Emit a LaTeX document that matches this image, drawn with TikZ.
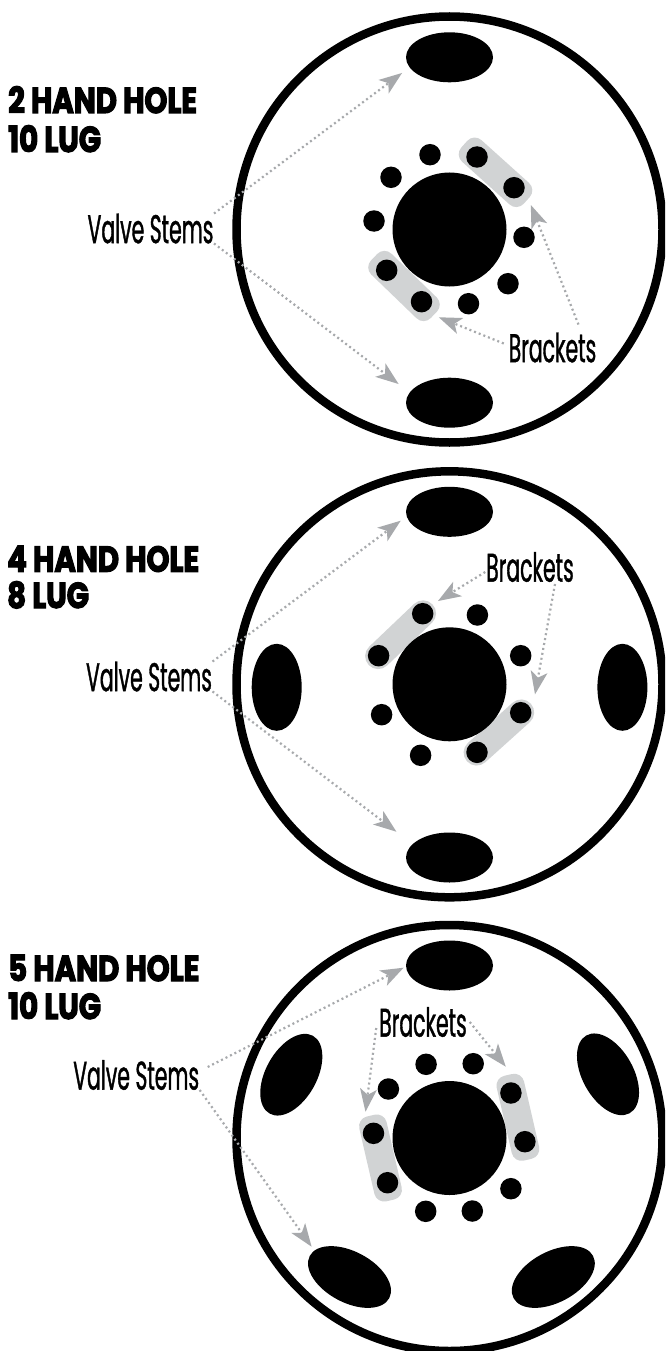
\documentclass[tikz,border=0pt]{standalone}
\usepackage{fontspec}
\usetikzlibrary{arrows.meta,calc,shapes.geometric}
\newfontfamily\headfont[FakeStretch=0.81,FakeBold=3.2]{Poppins Bold}
\newfontfamily\labfont[FakeStretch=0.51,FakeBold=0.9]{Poppins}
\definecolor{brk}{HTML}{D1D3D4}
\definecolor{arrowc}{HTML}{A7A9AC}
\tikzset{
  ring/.style={circle,draw=black,line width=8.5pt,fill=white,minimum size=426pt,inner sep=0pt,outer sep=0pt},
  hub/.style={circle,fill=black,minimum size=114pt,inner sep=0pt,outer sep=0pt},
  lug/.style={circle,fill=black,minimum size=21.5pt,inner sep=0pt,outer sep=0pt},
  hole/.style={ellipse,fill=black,minimum width=87pt,minimum height=50pt,inner sep=0pt,outer sep=0pt},
  bracketbar/.style={rectangle,fill=brk,rounded corners=#1,inner sep=0pt,outer sep=0pt},
  head/.style={anchor=base west,inner sep=0pt,font=\headfont\fontsize{36}{36}\selectfont},
  lab/.style={inner sep=0pt,outer sep=0pt,font=\labfont\fontsize{40}{40}\selectfont},
  valvelab/.style={lab,minimum width=127pt,minimum height=27pt},
  bracketlab/.style={lab,minimum width=83pt,minimum height=25pt},
  pointer/.style={draw=arrowc,line width=2.2pt,dash pattern=on 2pt off 3pt,
    -{Stealth[length=23pt,width=17pt,inset=6pt,fill=arrowc,line width=0pt]}}
}
\begin{document}
\begin{tikzpicture}[x=1pt,y=-1pt]
\useasboundingbox (0,0) rectangle (665,1351);
\clip (0,0) rectangle (665,1351);

% ---------- wheel 1
\node[ring] (r1) at (449.5,229.5) {};
\node[hole] (h1a) at (449.5,57.3) {};
\node[hole] (h1b) at (449.5,402.7) {};
\node[bracketbar=10pt,minimum width=84pt,minimum height=29pt,rotate=-42] (b1a) at (495.5,172.3) {};
\node[bracketbar=10pt,minimum width=83pt,minimum height=29pt,rotate=-44] (b1b) at (404,286) {};
\node[hub] (c1) at (449.5,229.5) {};
\node[lug] (l1a) at (477,157) {};
\node[lug] (l1b) at (514,187.7) {};
\node[lug] (l1c) at (524,237.3) {};
\node[lug] (l1d) at (508,283.7) {};
\node[lug] (l1e) at (468.5,303.7) {};
\node[lug] (l1f) at (421.5,301.7) {};
\node[lug] (l1g) at (386.7,270.3) {};
\node[lug] (l1h) at (374,221) {};
\node[lug] (l1i) at (391,177.3) {};
\node[lug] (l1j) at (430,154.7) {};
\node[head] (t1a) at (8,113) {2 HAND HOLE};
\node[head] (t1b) at (8,152) {10 LUG};
\node[valvelab] (v1) at (150.5,228.5) {Valve Stems};
\node[bracketlab] (k1) at (552.5,347.5) {Brackets};
\coordinate (p1a) at (402,73);
\coordinate (p1b) at (398.6,384);
\coordinate (p1c) at (530.8,205);
\coordinate (p1d) at (438.8,317.3);
\draw[pointer] (v1.north east) -- (p1a);
\draw[pointer] (v1.south east) -- (p1b);
\draw[pointer] ($(k1.north)+(26,-8)$) -- (p1c);
\draw[pointer] ($(k1.west)+(-5,-4)$) -- (p1d);

% ---------- wheel 2
\node[ring] (r2) at (449.5,684.3) {};
\node[hole] (h2a) at (449.5,511.8) {};
\node[hole] (h2b) at (449.5,857.5) {};
\node[hole,rotate=90] (h2c) at (276.7,687.3) {};
\node[hole,rotate=90] (h2d) at (622.4,687.3) {};
\node[bracketbar=13pt,minimum width=88pt,minimum height=26pt,rotate=43.6] (b2a) at (400.6,634.7) {};
\node[bracketbar=13pt,minimum width=86pt,minimum height=26pt,rotate=42] (b2b) at (498.9,732.5) {};
\node[hub] (c2) at (449.5,684.3) {};
\node[lug] (l2a) at (422.7,613.7) {};
\node[lug] (l2b) at (477.4,615) {};
\node[lug] (l2c) at (520.7,655.7) {};
\node[lug] (l2d) at (520.7,712.7) {};
\node[lug] (l2e) at (477,752.3) {};
\node[lug] (l2f) at (420.6,755.3) {};
\node[lug] (l2g) at (381.6,714.7) {};
\node[lug] (l2h) at (378.6,655.7) {};
\node[head] (t2a) at (7,571.7) {4 HAND HOLE};
\node[head] (t2b) at (7,608) {8 LUG};
\node[valvelab] (v2) at (149,676.5) {Valve Stems};
\node[bracketlab] (k2) at (530,567) {Brackets};
\coordinate (p2a) at (400.7,520.7);
\coordinate (p2b) at (396.4,831.7);
\coordinate (p2c) at (438,601);
\coordinate (p2d) at (535,694.3);
\draw[pointer] (v2.north east) -- (p2a);
\draw[pointer] (v2.south east) -- (p2b);
\draw[pointer] ($(k2.west)+(-1,5)$) -- (p2c);
\draw[pointer] ($(k2.south)+(25,2)$) -- (p2d);

% ---------- wheel 3
\node[ring] (r3) at (449.5,1138) {};
\node[hole] (h3a) at (449.5,965.5) {};
\node[hole,rotate=61,minimum width=89pt,minimum height=51pt] (h3b) at (291.3,1074.7) {};
\node[hole,rotate=119,minimum width=89pt,minimum height=51pt] (h3c) at (608,1074.3) {};
\node[hole,rotate=-28,minimum width=90pt,minimum height=51pt] (h3d) at (349.5,1277) {};
\node[hole,rotate=28,minimum width=90pt,minimum height=51pt] (h3e) at (553.3,1277) {};
\node[bracketbar=10pt,minimum width=87pt,minimum height=28pt,rotate=-77] (b3a) at (517.9,1117.3) {};
\node[bracketbar=10pt,minimum width=87pt,minimum height=28pt,rotate=-77] (b3b) at (380.5,1158) {};
\node[hub] (c3) at (449.5,1138) {};
\node[lug] (l3a) at (426.1,1064.3) {};
\node[lug] (l3b) at (473.2,1063.7) {};
\node[lug] (l3c) at (388.4,1089) {};
\node[lug] (l3d) at (510.9,1093) {};
\node[lug] (l3e) at (373.5,1133.3) {};
\node[lug] (l3f) at (524.9,1141.7) {};
\node[lug] (l3g) at (387.5,1182.7) {};
\node[lug] (l3h) at (510.9,1188.7) {};
\node[lug] (l3i) at (425.7,1211.3) {};
\node[lug] (l3j) at (472.3,1211) {};
\node[head] (t3a) at (8,981) {5 HAND HOLE};
\node[head] (t3b) at (8,1019) {10 LUG};
\node[valvelab] (v3) at (136.2,1075) {Valve Stems};
\node[bracketlab] (k3) at (423,1022) {Brackets};
\coordinate (p3a) at (403.6,967.7);
\coordinate (p3b) at (311.6,1246.7);
\coordinate (p3c) at (365.5,1111.7);
\coordinate (p3d) at (505.8,1066.7);
\draw[pointer] ($(v3.east)+(8,-8)$) -- (p3a);
\draw[pointer] (v3.south east) -- (p3b);
\draw[pointer] ($(k3.west)+(-3,6)$) -- (p3c);
\draw[pointer] ($(k3.east)+(3,0)$) -- (p3d);
\end{tikzpicture}
\end{document}
